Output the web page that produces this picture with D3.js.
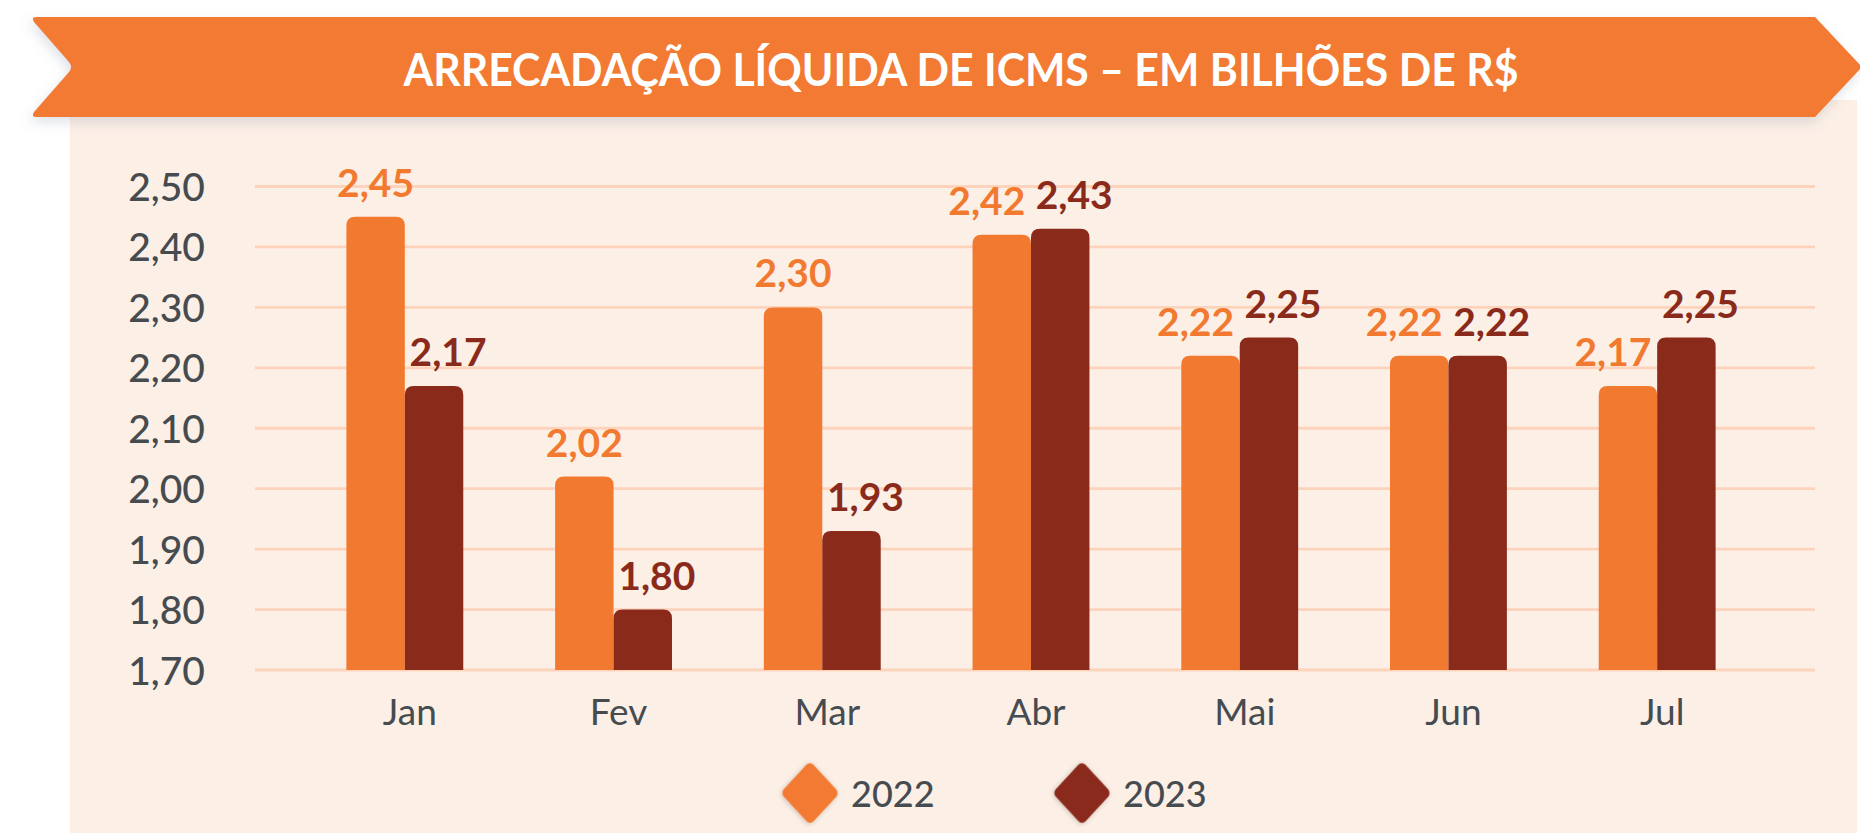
<!DOCTYPE html>
<html>
<head>
<meta charset="utf-8">
<script src="https://cdn.jsdelivr.net/npm/d3@7"></script>
<style>
  html, body { margin: 0; padding: 0; background: #ffffff; }
  svg { display: block; }
</style>
</head>
<body>
<div id="chart"></div>
<script>
// -------------------- DATA --------------------
const months = ["Jan", "Fev", "Mar", "Abr", "Mai", "Jun", "Jul"];
const years = ["2022", "2023"];
const values2022 = [2.45, 2.02, 2.30, 2.42, 2.22, 2.22, 2.17];
const values2023 = [2.17, 1.80, 1.93, 2.43, 2.25, 2.22, 2.25];
const yTicks = [1.70, 1.80, 1.90, 2.00, 2.10, 2.20, 2.30, 2.40, 2.50];
const title = "ARRECADAÇÃO LÍQUIDA DE ICMS – EM BILHÕES DE R$";

const colors = { "2022": "#f27a30", "2023": "#8a2a1a" };
const textColor = "#464b50";
const font = "Lato, 'Open Sans', sans-serif";

const W = 1860, H = 833;

const rows = months.map((m, i) => ({
  month: m,
  series: [
    { year: "2022", value: values2022[i], other: values2023[i] },
    { year: "2023", value: values2023[i], other: values2022[i] }
  ]
}));

const br = d3.formatLocale({ decimal: ",", thousands: ".", grouping: [3], currency: ["R$", ""] });
const fmt = br.format(".2f");

const svg = d3.select("#chart")
  .append("svg")
  .attr("width", W)
  .attr("height", H)
  .attr("viewBox", `0 0 ${W} ${H}`);

const defs = svg.append("defs");
const shadow = defs.append("filter").attr("id", "shadow")
  .attr("x", "-10%").attr("y", "-30%").attr("width", "120%").attr("height", "180%");
shadow.append("feDropShadow")
  .attr("dx", -2).attr("dy", 5).attr("stdDeviation", 6)
  .attr("flood-color", "#7a8a9a").attr("flood-opacity", 0.25);

const dshadow = defs.append("filter").attr("id", "dshadow")
  .attr("x", "-40%").attr("y", "-40%").attr("width", "180%").attr("height", "180%");
dshadow.append("feDropShadow")
  .attr("dx", 0).attr("dy", 1).attr("stdDeviation", 2.5)
  .attr("flood-color", "#000").attr("flood-opacity", 0.22);

// -------------------- PANEL --------------------
svg.append("rect")
  .attr("x", 70).attr("y", 100)
  .attr("width", 1787).attr("height", H - 100)
  .attr("fill", "#fcefe6");

// -------------------- TITLE BANNER --------------------
const banner = d3.path();
banner.moveTo(36, 17);
banner.lineTo(1815, 17);
banner.lineTo(1862, 67);
banner.lineTo(1815, 117);
banner.lineTo(36, 117);
banner.quadraticCurveTo(31, 117, 34, 112);
banner.lineTo(69, 72);
banner.quadraticCurveTo(73, 67, 69, 62);
banner.lineTo(34, 22);
banner.quadraticCurveTo(31, 17, 36, 17);
banner.closePath();

svg.append("path")
  .attr("d", banner.toString())
  .attr("fill", "#f27a30")
  .attr("filter", "url(#shadow)");

const titleText = svg.append("text")
  .attr("x", 961)
  .attr("y", 86)
  .attr("text-anchor", "middle")
  .attr("fill", "#ffffff")
  .style("font-family", font)
  .style("font-weight", 700)
  .style("font-size", "45px")
  .text(title);

// keep the title at the same width as the reference
const tw = titleText.node().getComputedTextLength();
if (Math.abs(tw - 1115) > 10) {
  titleText.attr("textLength", 1115).attr("lengthAdjust", "spacingAndGlyphs");
}

// -------------------- SCALES --------------------
const y = d3.scaleLinear()
  .domain([1.7, 2.5])
  .range([670, 186.5]);

const x = d3.scaleBand()
  .domain(months)
  .range([251, 1811])
  .paddingInner(0.44)
  .paddingOuter(0.457);

const xSub = d3.scaleBand()
  .domain(years)
  .range([0, x.bandwidth()]);

// -------------------- GRID --------------------
svg.append("g")
  .selectAll("line")
  .data(yTicks)
  .join("line")
  .attr("x1", 255)
  .attr("x2", 1815)
  .attr("y1", d => y(d))
  .attr("y2", d => y(d))
  .attr("stroke", "#fdd3bc")
  .attr("stroke-width", 2.8);

// -------------------- AXES --------------------
const yAxis = svg.append("g")
  .attr("transform", "translate(205,0)")
  .call(d3.axisLeft(y).tickValues(yTicks).tickFormat(fmt).tickSize(0).tickPadding(0));
yAxis.select(".domain").remove();
yAxis.selectAll("text")
  .attr("dy", "0.36em")
  .style("font-family", font)
  .style("font-size", "39px")
  .style("font-weight", 500)
  .attr("fill", textColor);

const xAxis = svg.append("g")
  .attr("transform", "translate(5,0)")
  .call(d3.axisBottom(x).tickSize(0).tickPadding(0));
xAxis.select(".domain").remove();
xAxis.selectAll("text")
  .attr("y", 725)
  .attr("dy", 0)
  .style("font-family", font)
  .style("font-size", "37px")
  .attr("fill", textColor);

// -------------------- BARS --------------------
function topRounded(x0, y0, w, h, r) {
  const p = d3.path();
  p.moveTo(x0, y0 + h);
  p.lineTo(x0, y0 + r);
  p.quadraticCurveTo(x0, y0, x0 + r, y0);
  p.lineTo(x0 + w - r, y0);
  p.quadraticCurveTo(x0 + w, y0, x0 + w, y0 + r);
  p.lineTo(x0 + w, y0 + h);
  p.closePath();
  return p.toString();
}

const groups = svg.append("g")
  .selectAll("g")
  .data(rows)
  .join("g")
  .attr("transform", d => `translate(${x(d.month)},0)`);

groups.selectAll("path")
  .data(d => d.series)
  .join("path")
  .attr("d", d => topRounded(xSub(d.year), y(d.value), xSub.bandwidth(), y(1.7) - y(d.value), 9))
  .attr("fill", d => colors[d.year]);

// labels: nudged apart when the two bars are close in height
function labelDx(d) {
  if (d.year === "2023") return 14;
  return Math.abs(d.value - d.other) < 0.1 ? -15 : 0;
}

groups.selectAll("text")
  .data(d => d.series)
  .join("text")
  .attr("x", d => xSub(d.year) + xSub.bandwidth() / 2 + labelDx(d))
  .attr("y", d => y(d.value) - 20)
  .attr("text-anchor", "middle")
  .attr("fill", d => colors[d.year])
  .style("font-family", font)
  .style("font-weight", 700)
  .style("font-size", "39px")
  .text(d => fmt(d.value));

// -------------------- LEGEND --------------------
const legend = svg.append("g")
  .selectAll("g")
  .data(years)
  .join("g")
  .attr("transform", (d, i) => `translate(${810 + i * 272},793)`);

legend.append("rect")
  .attr("x", -21).attr("y", -21)
  .attr("width", 42).attr("height", 42)
  .attr("rx", 5)
  .attr("transform", "scale(1,1.08) rotate(45)")
  .attr("fill", d => colors[d])
  .attr("filter", "url(#dshadow)");

legend.append("text")
  .attr("x", 41)
  .attr("y", 14)
  .attr("fill", textColor)
  .style("font-family", font)
  .style("font-size", "36px")
  .style("font-weight", 500)
  .text(d => d);
</script>
</body>
</html>
